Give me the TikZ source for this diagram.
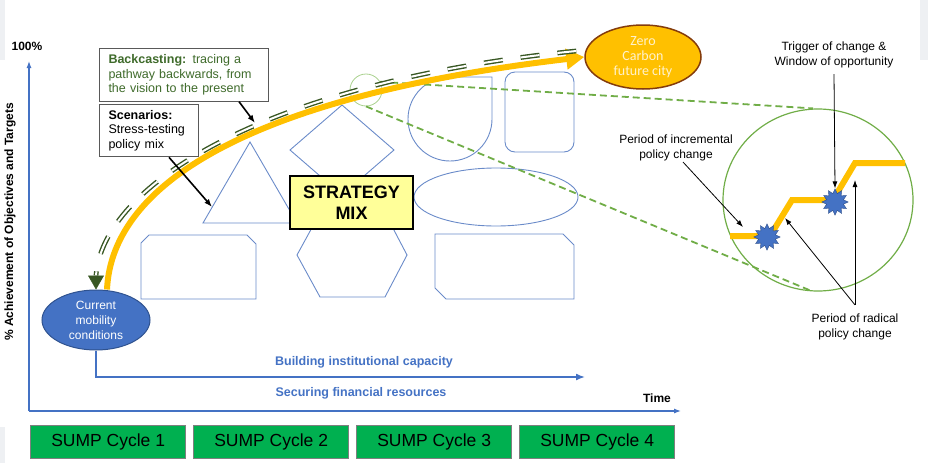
\documentclass[tikz,border=0pt]{standalone}
\usepackage{fontspec}
\setmainfont{Liberation Sans}
\newfontfamily\calibri{Carlito}
\usepackage{tikz}
\usetikzlibrary{arrows.meta,shapes.geometric,positioning}
\usetikzlibrary{matrix,arrows}
\definecolor{axisblue}{HTML}{4472C4}
\definecolor{shapeblue}{HTML}{6A8BC9}
\definecolor{bluedark}{HTML}{2F528F}
\definecolor{mainorange}{HTML}{FFC000}
\definecolor{zeroedge}{HTML}{843C0C}
\definecolor{zerotext}{HTML}{FFF2CC}
\definecolor{backgreen}{HTML}{385723}
\definecolor{notegreen}{HTML}{3F6B2B}
\definecolor{spotgreen}{HTML}{70AD47}
\definecolor{lightspot}{HTML}{A9D18E}
\definecolor{cyclegreen}{HTML}{00B050}
\definecolor{cyclegray}{HTML}{7F7F7F}
\definecolor{notegray}{HTML}{595959}
\definecolor{stratyellow}{HTML}{FFFF99}
\definecolor{bggray}{HTML}{EEF0F3}
\tikzset{
mymat/.style={
  matrix of nodes,
  nodes={draw=cyclegray, fill=cyclegreen, line width=1pt,
    minimum width=155pt, minimum height=33pt, inner sep=0pt,
    font=\fontsize{17.5}{20}\selectfont},
  column sep=7pt,
  inner sep=0pt
  }
}
\tikzset{
  note/.style={draw=notegray, fill=white, line width=1pt, align=left,
    inner xsep=9pt, inner ysep=6pt, anchor=north west,
    font=\fontsize{12.5}{14.5}\selectfont},
  shp/.style={draw=shapeblue, line width=0.9pt},
  lbl/.style={align=center, inner sep=1pt, font=\fontsize{12}{14.5}\selectfont},
  ptr/.style={-{Latex[length=7pt,width=5pt]}, line width=0.8pt},
  callarrow/.style={-{Latex[length=8pt,width=6pt]}, line width=1.6pt},
  axisline/.style={draw=axisblue, line width=1.2pt, -{Latex[length=7pt,width=5pt]}},
  bluetext/.style={text=axisblue, font=\bfseries\fontsize{12.5}{14}\selectfont},
  boldtext/.style={font=\bfseries\fontsize{12}{14}\selectfont},
  burst/.style={star, star points=12, star point ratio=1.5, minimum size=26pt,
    inner sep=0pt, fill=axisblue, draw=bluedark, line width=0.5pt},
  zoomline/.style={draw=spotgreen, line width=1.8pt, dash pattern=on 7pt off 4pt},
  backcast/.style={draw=backgreen, double=white, line width=1.4pt,
    double distance=2pt, dash pattern=on 19pt off 18pt},
  pathway/.style={draw=mainorange, line width=6pt}
}
\begin{document}
\begin{tikzpicture}[>=latex, x=1pt, y=-1pt]
\useasboundingbox (0,0) rectangle (928,463);
\fill[bggray] (0,0) rectangle (5,60);
\fill[bggray] (920,0) rectangle (928,60);
\fill[bggray] (0,427) rectangle (5,463);

\coordinate(origin) at (29,411);
\coordinate(ytop) at (29,61);
\coordinate(xend) at (681,411);
\draw[axisline] (origin) -- (ytop);
\draw[axisline] (origin) -- (xend);
\node[boldtext] (ymax) at (27,46) {100\%};
\node[boldtext] (time) at (657,398) {Time};
\node[boldtext, rotate=90] (ylab) at (10,222) {\% Achievement of Objectives and Targets};

\draw[shp] (250,142) -- (297,223) -- (203,223) -- cycle;
\draw[shp] (342,105) -- (394,150) -- (342,195) -- (290,150) -- cycle;
\draw[shp] (450,77) -- (492,77) -- (492,119) arc[start angle=0, end angle=270, radius=42] -- cycle;
\draw[shp, rounded corners=10pt] (505,72) rectangle (574,152);
\draw[shp] (496,197) ellipse [x radius=82, y radius=29];
\draw[shp] (141,243) -- (149,235) -- (247,235) -- (256,244) -- (256,299) -- (141,299) -- cycle;
\draw[shp] (320,213) -- (385,213) -- (407,255) -- (385,297) -- (320,297) -- (297,255) -- cycle;
\draw[shp] (435,234) -- (563,234) -- (574,245) -- (574,299) -- (446,299) -- (435,288) -- cycle;

\node[draw=black, fill=stratyellow, line width=1.5pt, align=center,
  minimum width=123pt, minimum height=53pt,
  font=\bfseries\fontsize{18}{21.5}\selectfont] (strat) at (351.5,202.5) {STRATEGY\\MIX};

\node[ellipse, fill=axisblue, draw=bluedark, line width=1pt, text=white, inner sep=0pt,
  minimum width=108pt, minimum height=60pt, align=center,
  font=\fontsize{12}{15}\selectfont] (cur) at (96,320) {Current\\mobility\\conditions};
\node[ellipse, fill=mainorange, draw=zeroedge, line width=1.5pt, text=zerotext, inner sep=0pt,
  minimum width=116pt, minimum height=64pt, align=center,
  font=\calibri\fontsize{14}{15}\selectfont] (zero) at (643,57) {Zero\\Carbon\\future city};

\node[circle, draw=lightspot, line width=0.8pt, minimum size=32pt, inner sep=0pt] (spot) at (366,90) {};
\node[ellipse, draw=spotgreen, line width=1.2pt, minimum width=190pt, minimum height=182pt,
  inner sep=0pt] (zoomview) at (818,200) {};
\draw[zoomline] (spot.30) -- ([xshift=-5pt]zoomview.north);
\draw[zoomline] (spot.south) -- ([xshift=-5pt]zoomview.south);

\coordinate(capend) at (585,377);
\draw[axisline, line width=1.5pt, -{Latex[length=9pt,width=7pt]}] (cur.south) |- (capend);
\node[bluetext] (capacity) at (364,362) {Building institutional capacity};
\node[bluetext] (finance) at (361,393) {Securing financial resources};

\draw[pathway, -{Triangle[width=20pt,length=18pt]}] ([xshift=11pt]cur.north) .. controls (112,180) and (260,95) .. (zero.west);
\draw[backcast] ([xshift=-8pt,yshift=6pt]zero.west) .. controls (265,82) and (103,185) .. ([yshift=14pt]cur.north);
\draw[draw=backgreen, line width=0.5pt, -{Triangle[width=16pt,length=14pt]}] ([yshift=14pt]cur.north) -- (cur.north);

\node[note, text=notegreen, text width=151pt] (back) at (99,48)
  {\textbf{Backcasting:} tracing a\\pathway backwards, from\\the vision to the present};
\node[note, text width=81pt] (scen) at ([yshift=-2pt]back.south west)
  {\textbf{Scenarios:}\\Stress-testing\\policy mix};

\begin{scope}
\coordinate(start) at([xshift=55pt]back.south);
\coordinate(end) at(255,123);
\draw[callarrow] (start) -- (end);
\end{scope}

\begin{scope}
\coordinate(start) at([xshift=20pt]scen.south);
\coordinate(end) at(212,207);
\draw[callarrow] (start) -- (end);
\end{scope}

\draw[pathway] (730,236) -- (770,236) -- (792,200) -- (833,200) -- (855,163) -- (905,163);
\node[burst] (burst1) at (767,237) {};
\node[burst] (burst2) at (835,202) {};

\node[lbl] (trig) at (834,55) {Trigger of change \&\\Window of opportunity};
\node[lbl] (incr) at (676,148) {Period of incremental\\policy change};
\node[lbl] (rad) at (855,327) {Period of radical\\policy change};

\begin{scope}
\coordinate(start) at([yshift=-5pt]trig.south);
\draw[ptr] (start) -- (burst2.north);
\end{scope}

\begin{scope}
\coordinate(start) at([xshift=7pt]incr.south);
\coordinate(end) at(743,227);
\draw[ptr] (start) -- (end);
\end{scope}

\begin{scope}
\coordinate(start) at([yshift=8pt]rad.north);
\coordinate(end) at(785,218);
\coordinate(end2) at(855,180);
\draw[ptr] (start) -- (end);
\draw[ptr] (start) -- (end2);
\end{scope}

\matrix[mymat, anchor=north west] at (30,425) (cyc)
{
  SUMP Cycle 1 & SUMP Cycle 2 & SUMP Cycle 3 & SUMP Cycle 4 \\
};

\end{tikzpicture}
\end{document}
